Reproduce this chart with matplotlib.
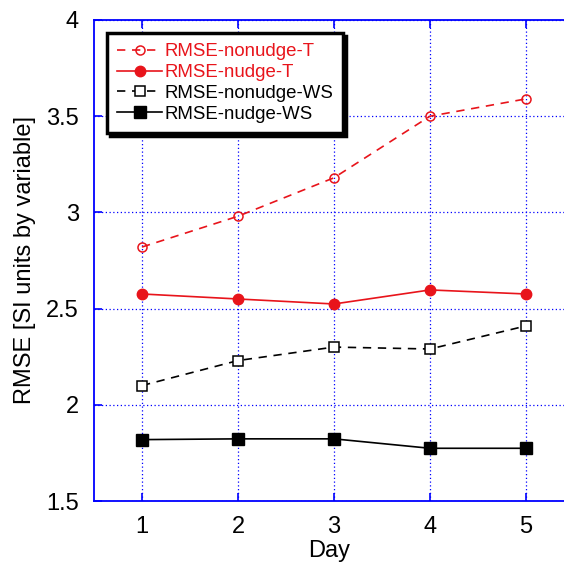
import numpy as np
import matplotlib
matplotlib.use("Agg")
import matplotlib.pyplot as plt

plt.rcParams['font.family'] = ['Liberation Sans', 'DejaVu Sans']

# data
days = [1, 2, 3, 4, 5]
nonudge_T = [2.82, 2.98, 3.18, 3.50, 3.59]
nudge_T = [2.576, 2.55, 2.524, 2.597, 2.576]
nonudge_WS = [2.10, 2.23, 2.30, 2.29, 2.41]
nudge_WS = [1.819, 1.823, 1.823, 1.774, 1.774]

fig = plt.figure(figsize=(5.64, 5.63), dpi=100)
ax = fig.add_axes([94/564, 1-501/563, 1-94/564, 481/563])

ax.plot(days, nonudge_T, color='#e8141b', ls=(0, (5, 4)), lw=1.2, marker='o',
        ms=6.5, mfc='none', mec='#e8141b', mew=1.1, label='RMSE-nonudge-T')
ax.plot(days, nudge_T, color='#e8141b', ls='-', lw=1.2, marker='o',
        ms=7.5, mfc='#e8141b', mec='#e8141b', label='RMSE-nudge-T')
ax.plot(days, nonudge_WS, color='black', ls=(0, (5, 4)), lw=1.2, marker='s',
        ms=6.5, mfc='white', mec='black', mew=1.1, label='RMSE-nonudge-WS')
ax.plot(days, nudge_WS, color='black', ls='-', lw=1.2, marker='s',
        ms=8, mfc='black', mec='black', label='RMSE-nudge-WS')

ax.set_xlim(0.5, 5.5 - 10/96)
ax.set_ylim(1.5, 4)
ax.set_xticks(days)
ax.set_yticks([1.5, 2, 2.5, 3, 3.5, 4])
ax.set_yticklabels(['1.5', '2', '2.5', '3', '3.5', '4'])
ax.grid(True, color='blue', ls=(0, (1, 2)), lw=0.9)
ax.set_axisbelow(True)
for s in ['left', 'bottom', 'top']:
    ax.spines[s].set_color('blue')
    ax.spines[s].set_linewidth(1.3)
ax.spines['right'].set_visible(False)
ax.tick_params(direction='in', colors='blue', length=6, width=1.2,
               top=True, right=False, labelsize=17, pad=11)
for lab in ax.get_xticklabels() + ax.get_yticklabels():
    lab.set_color('black')

ax.set_xlabel('Day', fontsize=17, labelpad=1)
ax.set_ylabel('RMSE [SI units by variable]', fontsize=17, labelpad=7)

leg = ax.legend(loc='upper left', bbox_to_anchor=(13/470, 1-13/481),
                fancybox=False, shadow={'color': 'black', 'alpha': 1},
                edgecolor='black', fontsize=13.4, handlelength=2.4,
                handletextpad=0.12, borderpad=0.55, labelspacing=0.2,
                borderaxespad=0)
leg.get_frame().set_linewidth(2.5)
for t, c in zip(leg.get_texts(), ['#e8141b', '#e8141b', 'black', 'black']):
    t.set_color(c)

fig.savefig('out.png', dpi=100)
